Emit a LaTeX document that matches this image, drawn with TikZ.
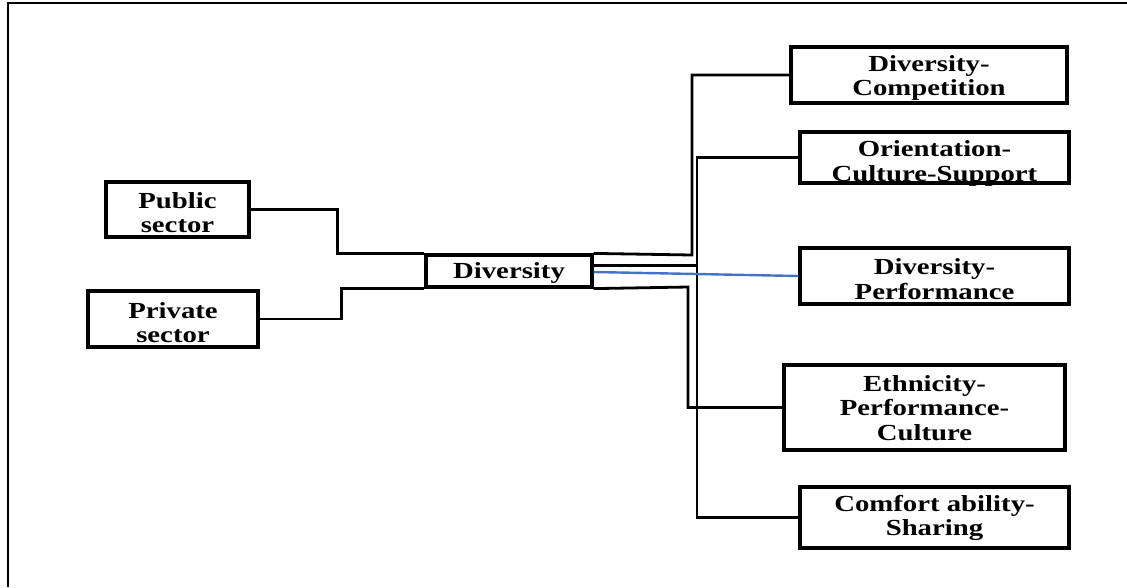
\documentclass[tikz,border=0pt]{standalone}
\usepackage{fontspec}
\newfontfamily\boxfont[FakeStretch=1.25]{Liberation Serif Bold}
\definecolor{linkblue}{HTML}{4472C4}
\begin{document}
\begin{tikzpicture}[x=1pt,y=-1pt,
  box/.style={draw=black,line width=3.2pt,inner sep=0pt},
  boxtext/.style={inner sep=0pt,align=center,
    font=\boxfont\fontsize{23}{24.5}\selectfont},
  link/.style={draw=black,line width=2.8pt,line join=miter},
  bluelink/.style={draw=linkblue,line width=2.4pt}]
\useasboundingbox (0,0) rectangle (1127,587);
\draw[line width=2pt] (8,587) -- (8,3) -- (1127,3);
% nodes
\node[box,minimum width=143pt,minimum height=55pt,
  label={[boxtext,yshift=-3pt]center:Public\\sector}] (pub) at (177.5,209.5) {};
\node[box,minimum width=170pt,minimum height=56pt,
  label={[boxtext,yshift=-3.5pt]center:Private\\sector}] (priv) at (173,319) {};
\node[box,minimum width=166pt,minimum height=32pt,
  label={[boxtext,yshift=-1.5pt]center:Diversity}] (div) at (509,271) {};
\node[box,minimum width=276pt,minimum height=56pt,
  label={[boxtext,yshift=-3pt]center:Diversity-\\Competition}] (comp) at (929,75) {};
\node[box,minimum width=269pt,minimum height=51pt,
  label={[boxtext,yshift=-6pt]center:Orientation-\\Culture-Support}] (ori) at (934.5,157.5) {};
\node[box,minimum width=269pt,minimum height=56pt,
  label={[boxtext,yshift=-3pt]center:Diversity-\\Performance}] (perf) at (934.5,276) {};
\node[box,minimum width=281pt,minimum height=85pt,
  label={[boxtext,yshift=-0.5pt]center:Ethnicity-\\Performance-\\Culture}] (eth) at (924.5,407.5) {};
\node[box,minimum width=269pt,minimum height=61pt,
  label={[boxtext,yshift=-0.5pt]center:Comfort ability-\\Sharing}] (comf) at (934.5,517.5) {};
% connectors
\coordinate (bus) at (697,0);
\draw[link] (pub.east) -- ++(87,0) |- (div.north west);
\draw[link] (priv.east) -- ++(82,0) |- (div.south west);
\draw[link] (div.north east) -- (692,255) |- (comp.west);
\draw[link] ([yshift=-12pt]div.north east) -- ([yshift=-12pt]div.north east -| bus);
\draw[link] (ori.west) -- (ori.west -| bus) -- (comf.west -| bus) -- (comf.west);
\draw[link] (div.south east) -- (688,287) |- (eth.west);
\draw[bluelink] ([yshift=-1pt]div.east) -- (perf.west);
\end{tikzpicture}
\end{document}
